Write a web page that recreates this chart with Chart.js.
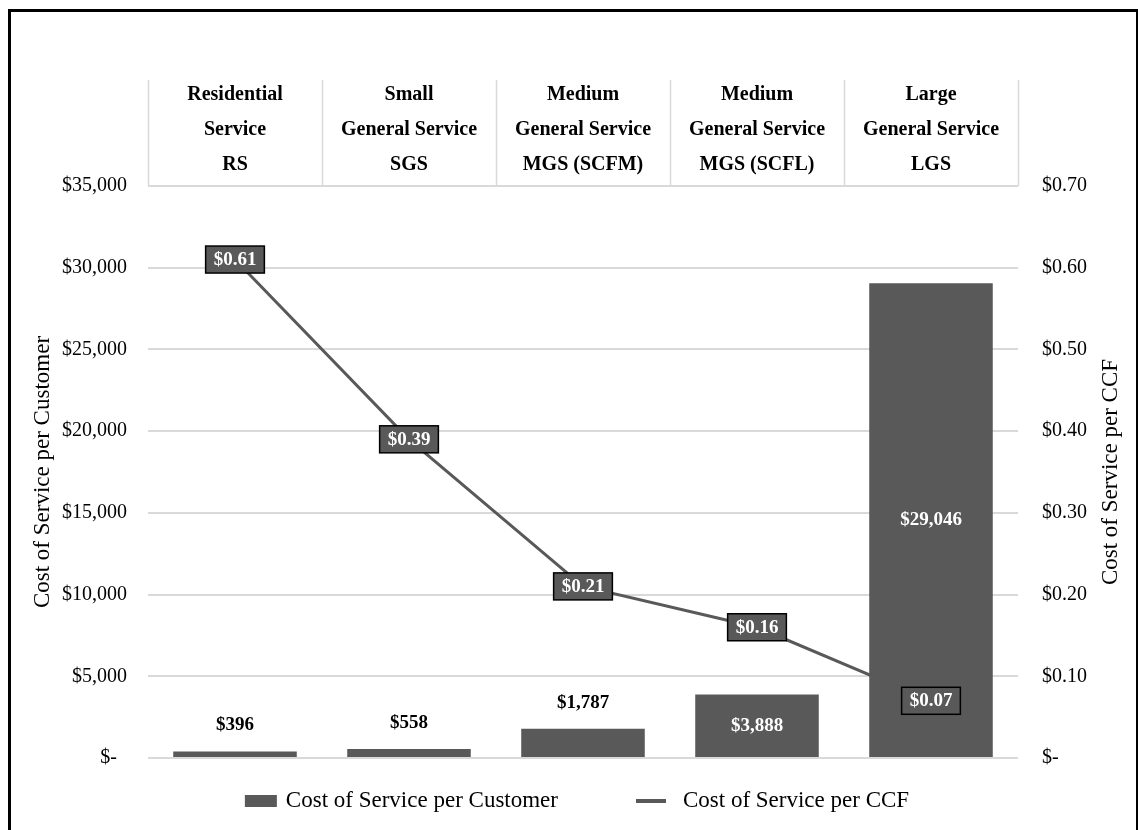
<!DOCTYPE html>
<html>
<head>
<meta charset="utf-8">
<title>Cost of Service</title>
<script src="https://cdn.jsdelivr.net/npm/chart.js@4.4.0/dist/chart.umd.min.js"></script>
<style>
  html, body { margin: 0; padding: 0; background: #fff; }
  #wrap { position: relative; width: 1138px; height: 830px; overflow: hidden; }
  #chart { position: absolute; left: 0; top: 0; }
  #frame { position: absolute; left: 8px; top: 9px; width: 1125px; height: 900px; border: 3px solid #000; pointer-events: none; }
</style>
</head>
<body>
<div id="wrap">
  <canvas id="chart" width="1138" height="830"></canvas>
  <div id="frame"></div>
</div>
<script>
// Data
const categories = [
    ['Residential', 'Service', 'RS'],
    ['Small', 'General Service', 'SGS'],
    ['Medium', 'General Service', 'MGS (SCFM)'],
    ['Medium', 'General Service', 'MGS (SCFL)'],
    ['Large', 'General Service', 'LGS']
];
const costPerCustomer = [396, 558, 1787, 3888, 29046];
const costPerCcf = [0.61, 0.39, 0.21, 0.16, 0.07];
const customerTicks = [0, 5000, 10000, 15000, 20000, 25000, 30000, 35000];
const ccfTicks = [0, 0.1, 0.2, 0.3, 0.4, 0.5, 0.6, 0.7];

const FONT = "'Liberation Serif', 'Times New Roman', serif";
const GREY = '#595959';
const GRID = '#d9d9d9';

Chart.defaults.font.family = FONT;
Chart.defaults.color = '#000';

function fmtDollar(v) {
    return v === 0 ? '$-  ' : '$' + v.toLocaleString('en-US');
}
function fmtCcf(v) {
    return v === 0 ? '$-' : '$' + v.toFixed(2);
}

// value labels on bars and boxed labels on the line
const valueLabels = {
    id: 'valueLabels',
    afterDatasetsDraw(chart) {
        const ctx = chart.ctx;
        ctx.save();
        ctx.font = 'bold 19px ' + FONT;
        ctx.textAlign = 'center';
        ctx.textBaseline = 'middle';

        chart.getDatasetMeta(0).data.forEach((bar, i) => {
            const h = bar.base - bar.y;
            const text = fmtDollar(costPerCustomer[i]);
            if (h > 40) {
                ctx.fillStyle = '#fff';
                ctx.fillText(text, bar.x, bar.y + h / 2);
            } else {
                ctx.fillStyle = '#000';
                ctx.fillText(text, bar.x, bar.y - 26);
            }
        });

        chart.getDatasetMeta(1).data.forEach((pt, i) => {
            const text = fmtCcf(costPerCcf[i]);
            const w = ctx.measureText(text).width + 16;
            const h = 27;
            const x = pt.x - w / 2, y = pt.y - h / 2;
            ctx.fillStyle = GREY;
            ctx.fillRect(x, y, w, h);
            ctx.strokeStyle = '#000';
            ctx.lineWidth = 1.5;
            ctx.strokeRect(x, y, w, h);
            ctx.fillStyle = '#fff';
            ctx.fillText(text, pt.x, pt.y + 0.5);
        });
        ctx.restore();
    }
};

// header cell separators, right axis title, legend
const decorations = {
    id: 'decorations',
    afterDraw(chart) {
        const ctx = chart.ctx;
        const area = chart.chartArea;
        const step = area.width / categories.length;

        ctx.save();
        ctx.strokeStyle = GRID;
        ctx.lineWidth = 1.5;
        for (let i = 0; i <= categories.length; i++) {
            const x = Math.round(area.left + i * step) + 0.5;
            ctx.beginPath();
            ctx.moveTo(x, 80);
            ctx.lineTo(x, area.top);
            ctx.stroke();
        }

        // right axis title, reading bottom to top
        ctx.fillStyle = '#000';
        ctx.font = '23px ' + FONT;
        ctx.textAlign = 'center';
        ctx.textBaseline = 'middle';
        ctx.translate(1111, (area.top + area.bottom) / 2);
        ctx.rotate(-Math.PI / 2);
        ctx.fillText('Cost of Service per CCF', 0, 0);
        ctx.setTransform(1, 0, 0, 1, 0, 0);

        // legend
        const ds = chart.data.datasets;
        const boxW = 32, lineW = 30, gapBox = 9, gapItems = 78;
        ctx.font = '23px ' + FONT;
        ctx.textAlign = 'left';
        const w0 = ctx.measureText(ds[0].label).width;
        const w1 = ctx.measureText(ds[1].label).width;
        const total = boxW + gapBox + w0 + gapItems + lineW + gapBox + w1;
        let x = 573 - total / 2;
        const y = 801;
        ctx.fillStyle = ds[0].backgroundColor;
        ctx.fillRect(x, y - 6, boxW, 12);
        x += boxW + gapBox;
        ctx.fillStyle = '#000';
        ctx.fillText(ds[0].label, x, y);
        x += w0 + gapItems;
        ctx.strokeStyle = ds[1].borderColor;
        ctx.lineWidth = 4;
        ctx.beginPath();
        ctx.moveTo(x, y);
        ctx.lineTo(x + lineW, y);
        ctx.stroke();
        x += lineW + gapBox + 8;
        ctx.fillText(ds[1].label, x, y);
        ctx.restore();
    }
};

const chart = new Chart(document.getElementById('chart'), {
    data: {
        labels: categories,
        datasets: [{
            type: 'bar',
            label: 'Cost of Service per Customer',
            data: costPerCustomer,
            backgroundColor: GREY,
            borderWidth: 0,
            categoryPercentage: 1,
            barPercentage: 0.71,
            yAxisID: 'y',
            order: 1
        }, {
            type: 'line',
            label: 'Cost of Service per CCF',
            data: costPerCcf,
            borderColor: GREY,
            backgroundColor: GREY,
            borderWidth: 3,
            pointRadius: 0,
            tension: 0,
            yAxisID: 'y1',
            order: 0
        }]
    },
    options: {
        responsive: false,
        animation: false,
        devicePixelRatio: 1,
        layout: {
            padding: { top: 0, left: 0, right: 0, bottom: 72 }
        },
        plugins: {
            legend: { display: false },
            tooltip: { enabled: false }
        },
        scales: {
            x: {
                position: 'top',
                grid: { display: false },
                border: { display: false },
                ticks: {
                    font: { size: 20, weight: 'bold', lineHeight: '35px' },
                    color: '#000',
                    padding: -4,
                    maxRotation: 0,
                    autoSkip: false
                },
                afterFit: (scale) => { scale.height = 186; }
            },
            y: {
                position: 'left',
                min: 0,
                max: 35000,
                afterBuildTicks: (scale) => { scale.ticks = customerTicks.map(v => ({ value: v })); },
                grid: { color: GRID, lineWidth: 2, drawTicks: false },
                border: { display: false },
                ticks: {
                    font: { size: 20 },
                    color: '#000',
                    padding: 21,
                    callback: (v) => fmtDollar(v)
                },
                title: {
                    display: true,
                    text: 'Cost of Service per Customer',
                    font: { size: 23 },
                    color: '#000',
                    padding: { top: 29, bottom: 0 }
                },
                afterFit: (scale) => { scale.width = 148; }
            },
            y1: {
                position: 'right',
                min: 0,
                max: 0.7,
                afterBuildTicks: (scale) => { scale.ticks = ccfTicks.map(v => ({ value: v })); },
                grid: { display: false, drawTicks: false },
                border: { display: false },
                ticks: {
                    font: { size: 20 },
                    color: '#000',
                    padding: 24,
                    callback: (v) => fmtCcf(v)
                },
                afterFit: (scale) => { scale.width = 120; }
            }
        }
    },
    plugins: [valueLabels, decorations]
});
</script>
</body>
</html>
